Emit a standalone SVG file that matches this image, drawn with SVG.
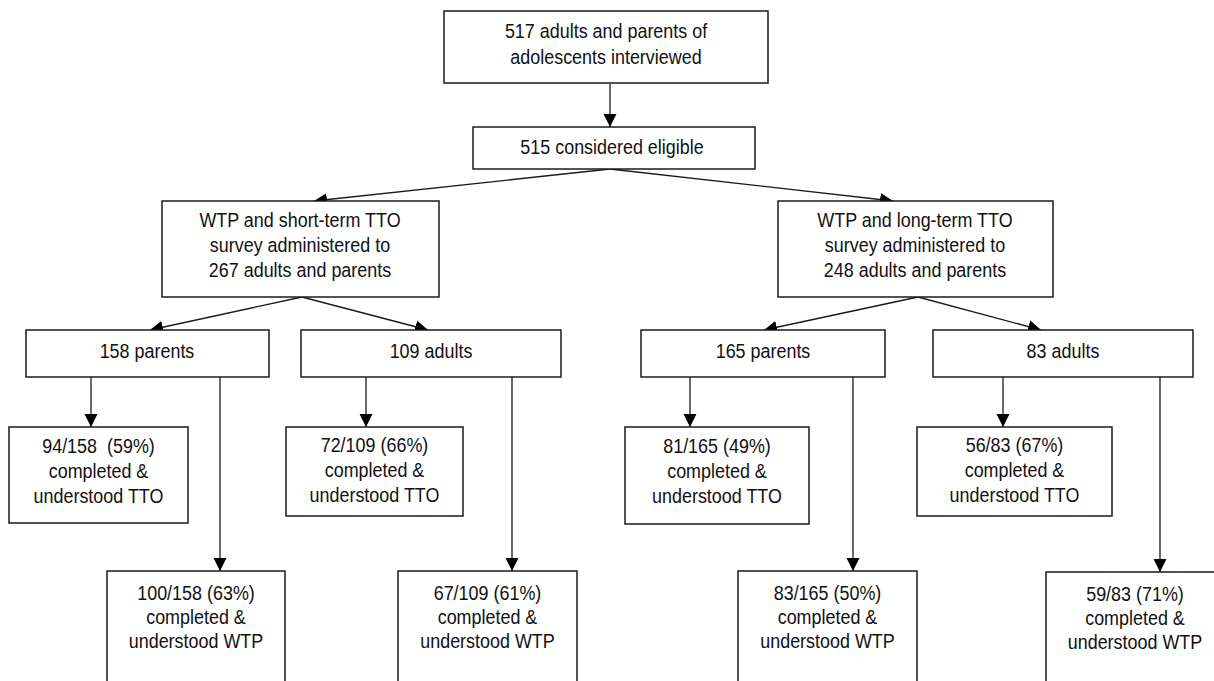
<svg xmlns="http://www.w3.org/2000/svg" width="1214" height="681" viewBox="0 0 1214 681">
<style>
.box{fill:#fff;stroke:#1a1a1a;stroke-width:1.5}
.t{font-family:"Liberation Sans",Arial,sans-serif;font-size:19.5px;fill:#111;text-anchor:middle;transform-box:fill-box;transform-origin:center;transform:scaleX(0.92)}
.c{stroke:#1a1a1a;stroke-width:1.3;fill:none;marker-end:url(#ah)}
</style>
<defs>
<marker id="ah" markerUnits="userSpaceOnUse" markerWidth="14" markerHeight="14" viewBox="0 0 14 14" refX="13" refY="7" orient="auto">
<path d="M0,0.5 L13,7 L0,13.5 Z" fill="#000"/>
</marker>
</defs>
<rect width="1214" height="681" fill="#fff"/>
<g id="connectors">
<line class="c" x1="610" y1="84" x2="610" y2="127"/>
<line class="c" x1="610" y1="169" x2="314" y2="201"/>
<line class="c" x1="610" y1="169" x2="893" y2="201"/>
<line class="c" x1="302" y1="297" x2="150" y2="330"/>
<line class="c" x1="302" y1="297" x2="428" y2="330"/>
<line class="c" x1="918" y1="297" x2="764" y2="330"/>
<line class="c" x1="918" y1="297" x2="1041" y2="330"/>
<line class="c" x1="91" y1="377" x2="91" y2="427"/>
<line class="c" x1="220" y1="377" x2="220" y2="571"/>
<line class="c" x1="366" y1="377" x2="366" y2="427"/>
<line class="c" x1="512" y1="377" x2="512" y2="571"/>
<line class="c" x1="690" y1="377" x2="690" y2="427"/>
<line class="c" x1="853" y1="377" x2="853" y2="571"/>
<line class="c" x1="1003" y1="377" x2="1003" y2="427"/>
<line class="c" x1="1160" y1="377" x2="1160" y2="572"/>
</g>
<g id="n_interviewed">
<rect class="box" x="444" y="11" width="324" height="72"/>
<text class="t" x="606" y="38">517 adults and parents of</text>
<text class="t" x="606" y="64">adolescents interviewed</text>
</g>
<g id="n_eligible">
<rect class="box" x="473" y="127" width="282" height="42"/>
<text class="t" x="612" y="154">515 considered eligible</text>
</g>
<g id="n_short">
<rect class="box" x="162" y="201" width="277" height="96"/>
<text class="t" x="300" y="227">WTP and short-term TTO</text>
<text class="t" x="300" y="252">survey administered to</text>
<text class="t" x="300" y="277">267 adults and parents</text>
</g>
<g id="n_long">
<rect class="box" x="778" y="201" width="275" height="96"/>
<text class="t" x="915" y="227">WTP and long-term TTO</text>
<text class="t" x="915" y="252">survey administered to</text>
<text class="t" x="915" y="277">248 adults and parents</text>
</g>
<g id="n_158p">
<rect class="box" x="26" y="330" width="243" height="47"/>
<text class="t" x="147" y="358">158 parents</text>
</g>
<g id="n_109a">
<rect class="box" x="301" y="330" width="260" height="47"/>
<text class="t" x="431" y="358">109 adults</text>
</g>
<g id="n_165p">
<rect class="box" x="641" y="330" width="244" height="47"/>
<text class="t" x="763" y="358">165 parents</text>
</g>
<g id="n_83a">
<rect class="box" x="933" y="330" width="260" height="47"/>
<text class="t" x="1063" y="358">83 adults</text>
</g>
<g id="n_94">
<rect class="box" x="9" y="427" width="179" height="96"/>
<text class="t" x="98.5" y="453">94/158&#160; (59%)</text>
<text class="t" x="98.5" y="478">completed &amp;</text>
<text class="t" x="98.5" y="503">understood TTO</text>
</g>
<g id="n_72">
<rect class="box" x="286" y="427" width="177" height="89"/>
<text class="t" x="374.5" y="452">72/109 (66%)</text>
<text class="t" x="374.5" y="477">completed &amp;</text>
<text class="t" x="374.5" y="502">understood TTO</text>
</g>
<g id="n_81">
<rect class="box" x="625" y="427" width="184" height="97"/>
<text class="t" x="717" y="453">81/165 (49%)</text>
<text class="t" x="717" y="478">completed &amp;</text>
<text class="t" x="717" y="503">understood TTO</text>
</g>
<g id="n_56">
<rect class="box" x="917" y="427" width="195" height="89"/>
<text class="t" x="1014.5" y="452">56/83 (67%)</text>
<text class="t" x="1014.5" y="477">completed &amp;</text>
<text class="t" x="1014.5" y="502">understood TTO</text>
</g>
<g id="n_100">
<rect class="box" x="107" y="571" width="178" height="125"/>
<text class="t" x="196" y="600">100/158 (63%)</text>
<text class="t" x="196" y="624">completed &amp;</text>
<text class="t" x="196" y="648">understood WTP</text>
</g>
<g id="n_67">
<rect class="box" x="398" y="571" width="179" height="125"/>
<text class="t" x="487.5" y="600">67/109 (61%)</text>
<text class="t" x="487.5" y="624">completed &amp;</text>
<text class="t" x="487.5" y="648">understood WTP</text>
</g>
<g id="n_83">
<rect class="box" x="738" y="571" width="179" height="125"/>
<text class="t" x="827.5" y="600">83/165 (50%)</text>
<text class="t" x="827.5" y="624">completed &amp;</text>
<text class="t" x="827.5" y="648">understood WTP</text>
</g>
<g id="n_59">
<rect class="box" x="1046" y="572" width="178" height="125"/>
<text class="t" x="1135" y="601">59/83 (71%)</text>
<text class="t" x="1135" y="625">completed &amp;</text>
<text class="t" x="1135" y="649">understood WTP</text>
</g>
</svg>
